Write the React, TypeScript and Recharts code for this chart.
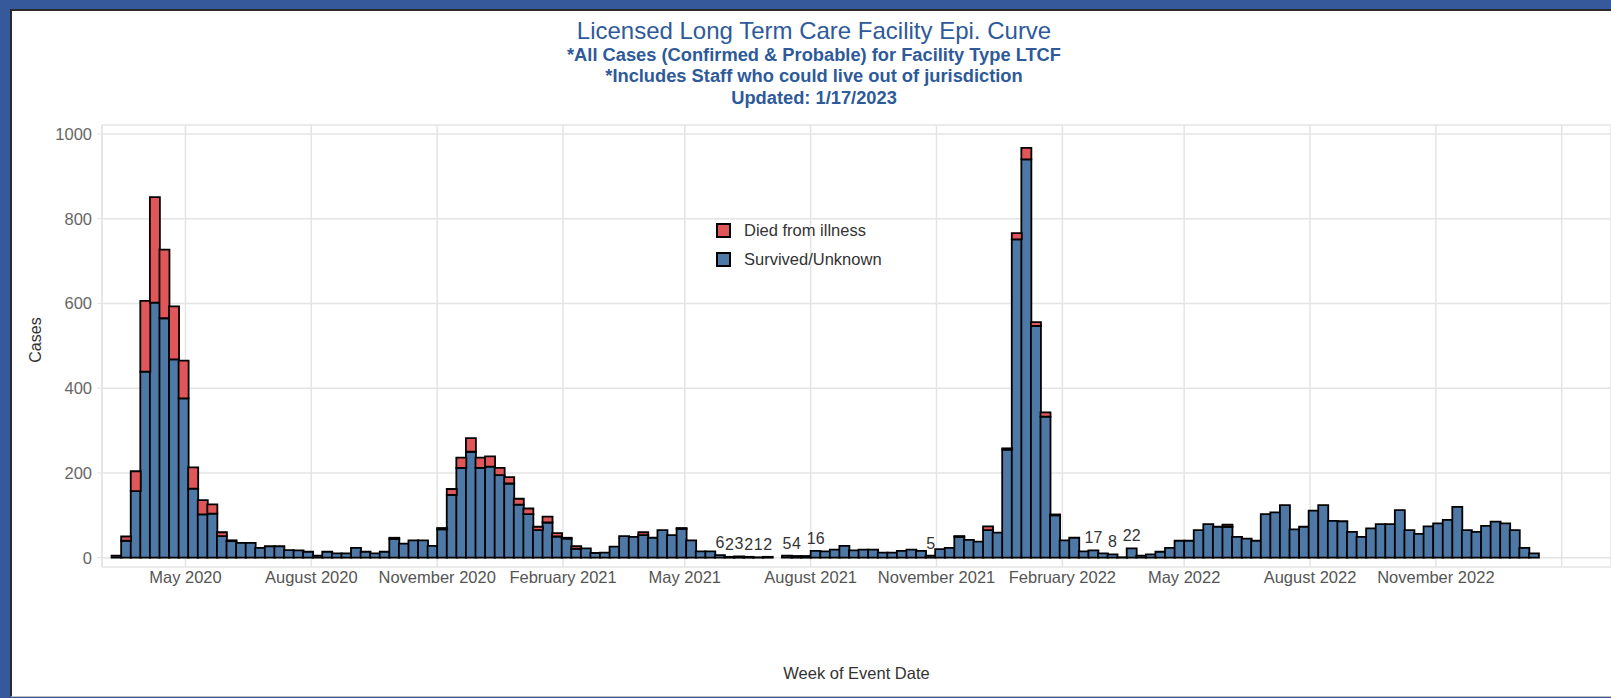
import React from "react";
import {
  BarChart,
  Bar,
  XAxis,
  YAxis,
  CartesianGrid,
  LabelList,
} from "recharts";

const DAY = 86400000;
const FONT = 'Arial, "Liberation Sans", sans-serif';
const BLUE_TEXT = "#2e5a9a";
const SURVIVED_COLOR = "#4e79a7";
const DIED_COLOR = "#e15759";

// first reported week (Sunday start), one bar per week after that
const firstWeek = Date.UTC(2020, 2, 8);

const survived = [
  5, 40, 157, 439, 602, 565, 468, 376, 163, 102,
  104, 51, 39, 35, 35, 23, 27, 27, 18, 17,
  14, 5, 14, 10, 10, 23, 14, 10, 14, 44,
  33, 41, 41, 28, 67, 148, 212, 250, 212, 215,
  195, 175, 125, 103, 65, 83, 50, 45, 21, 22,
  11, 12, 26, 51, 49, 53, 47, 65, 53, 68,
  41, 15, 15, 6, 2, 3, 2, 1, 2, 0,
  5, 4, 4, 16, 15, 19, 28, 17, 19, 19,
  12, 12, 16, 19, 16, 5, 20, 23, 49, 42,
  38, 65, 59, 255, 751, 940, 547, 333, 100, 41,
  47, 15, 17, 10, 8, 1, 22, 5, 8, 14,
  23, 40, 40, 65, 79, 73, 73, 49, 45, 40,
  103, 107, 124, 67, 73, 111, 124, 87, 86, 61,
  49, 69, 79, 79, 112, 65, 56, 74, 81, 89,
  120, 65, 61, 75, 85, 81, 65, 23, 10,
];

const died = [
  0, 10, 47, 167, 249, 162, 125, 89, 50, 34,
  22, 9, 2, 0, 0, 0, 0, 0, 0, 0,
  0, 0, 0, 0, 0, 0, 0, 0, 0, 3,
  0, 0, 0, 0, 3, 14, 24, 32, 24, 24,
  17, 15, 14, 13, 8, 14, 8, 2, 6, 0,
  0, 0, 0, 0, 0, 7, 0, 0, 0, 2,
  0, 0, 0, 0, 0, 0, 0, 0, 0, 0,
  0, 0, 0, 0, 0, 0, 0, 0, 0, 0,
  0, 0, 0, 0, 0, 0, 0, 0, 2, 0,
  0, 9, 0, 3, 15, 27, 9, 10, 2, 0,
  0, 0, 0, 0, 0, 0, 0, 0, 0, 0,
  0, 0, 0, 0, 0, 0, 5, 0, 0, 0,
  0, 0, 0, 0, 0, 0, 0, 0, 0, 0,
  0, 0, 0, 0, 0, 0, 0, 0, 0, 0,
  0, 0, 0, 0, 0, 0, 0, 0, 0,
];

// weeks whose totals carry a mark label in the original
const labelledWeeks = [63, 64, 65, 66, 67, 68, 70, 71, 73, 85, 102, 104, 106];

const xTicks = [
  Date.UTC(2020, 4, 1),
  Date.UTC(2020, 7, 1),
  Date.UTC(2020, 10, 1),
  Date.UTC(2021, 1, 1),
  Date.UTC(2021, 4, 1),
  Date.UTC(2021, 7, 1),
  Date.UTC(2021, 10, 1),
  Date.UTC(2022, 1, 1),
  Date.UTC(2022, 4, 1),
  Date.UTC(2022, 7, 1),
  Date.UTC(2022, 10, 1),
  Date.UTC(2023, 1, 1),
];
const xTickLabels = [
  "May 2020",
  "August 2020",
  "November 2020",
  "February 2021",
  "May 2021",
  "August 2021",
  "November 2021",
  "February 2022",
  "May 2022",
  "August 2022",
  "November 2022",
  "",
];
const xDomain = [Date.UTC(2020, 2, 1), Date.UTC(2023, 2, 9)];

const yTicks = [0, 200, 400, 600, 800, 1000];
const yDomain = [-22, 1021];

const legendItems = [
  { name: "Died from illness", color: DIED_COLOR },
  { name: "Survived/Unknown", color: SURVIVED_COLOR },
];

const data = survived.map((s, i) => ({
  week: firstWeek + (i * 7 + 3.5) * DAY,
  survived: s,
  died: died[i],
  label: labelledWeeks.includes(i) ? String(s + died[i]) : undefined,
}));

function LegendBox() {
  return (
    <div
      style={{
        position: "absolute",
        left: 716,
        top: 216,
        fontFamily: FONT,
        fontSize: 16.5,
        color: "#333",
      }}
    >
      {legendItems.map((p) => (
        <div
          key={p.name}
          style={{ display: "flex", alignItems: "center", height: 29 }}
        >
          <span
            style={{
              display: "inline-block",
              width: 11,
              height: 11,
              background: p.color,
              border: "2px solid #000",
              marginRight: 13,
            }}
          />
          {p.name}
        </div>
      ))}
    </div>
  );
}

export default function App() {
  return (
    <div
      style={{
        position: "absolute",
        left: 0,
        top: 0,
        width: 1611,
        height: 698,
        background: "#35599b",
        overflow: "hidden",
      }}
    >
      <div
        style={{
          position: "absolute",
          left: 10,
          top: 9,
          width: 1601,
          height: 688,
          background: "#fff",
          borderLeft: "2px solid #2a2a2a",
          borderTop: "2px solid #2a2a2a",
          borderBottom: "1px solid #bdbdbd",
          boxSizing: "border-box",
        }}
      />
      <svg
        width={1611}
        height={120}
        style={{ position: "absolute", left: 0, top: 0, fontFamily: FONT }}
      >
        <text x={814} y={39} textAnchor="middle" fontSize={24} fill={BLUE_TEXT}>
          Licensed Long Term Care Facility Epi. Curve
        </text>
        <text x={814} y={61} textAnchor="middle" fontSize={18.3} fontWeight="bold" fill={BLUE_TEXT}>
          *All Cases (Confirmed &amp; Probable) for Facility Type LTCF
        </text>
        <text x={814} y={82} textAnchor="middle" fontSize={18.3} fontWeight="bold" fill={BLUE_TEXT}>
          *Includes Staff who could live out of jurisdiction
        </text>
        <text x={814} y={104} textAnchor="middle" fontSize={18.3} fontWeight="bold" fill={BLUE_TEXT}>
          Updated: 1/17/2023
        </text>
      </svg>
      <div style={{ position: "absolute", left: 0, top: 0 }}>
        <BarChart
          width={1611}
          height={698}
          data={data}
          margin={{ top: 125, right: 0, bottom: 0, left: 0 }}
          barCategoryGap={0}
          barGap={0}
          style={{ fontFamily: FONT }}
        >
          <CartesianGrid stroke="#e4e4e4" strokeWidth={1.5} />
          <XAxis
            dataKey="week"
            type="number"
            domain={xDomain}
            allowDataOverflow
            ticks={xTicks}
            interval={0}
            tickFormatter={(v: number) => xTickLabels[xTicks.indexOf(v)] ?? ""}
            height={131}
            axisLine={false}
            tickLine={false}
            tickSize={0}
            tickMargin={4}
            tick={{ fill: "#555", fontSize: 16.5 }}
            label={{
              content: ({ viewBox }: any) => (
                <text
                  x={viewBox.x + viewBox.width / 2}
                  y={viewBox.y + 112}
                  textAnchor="middle"
                  fontSize={16.5}
                  fill="#333"
                >
                  Week of Event Date
                </text>
              ),
            }}
          />
          <YAxis
            type="number"
            domain={yDomain}
            allowDataOverflow
            ticks={yTicks}
            interval={0}
            width={102}
            axisLine={{ stroke: "#e4e4e4", strokeWidth: 1.5 }}
            tickLine={{ stroke: "#e4e4e4" }}
            tickSize={5}
            tickMargin={5}
            tick={{ fill: "#666", fontSize: 16.5 }}
            label={{
              content: ({ viewBox }: any) => {
                const cx = viewBox.x + 41;
                const cy = viewBox.y + viewBox.height / 2 - 6;
                return (
                  <text
                    x={cx}
                    y={cy}
                    transform={`rotate(-90 ${cx} ${cy})`}
                    textAnchor="middle"
                    fontSize={16}
                    fill="#333"
                  >
                    Cases
                  </text>
                );
              },
            }}
          />
          <Bar
            dataKey="survived"
            name="Survived/Unknown"
            stackId="a"
            fill={SURVIVED_COLOR}
            stroke="#000"
            strokeWidth={1.8}
            isAnimationActive={false}
          >
            <LabelList
              dataKey="label"
              position="top"
              offset={7}
              fill="#333"
              fontSize={16}
            />
          </Bar>
          <Bar
            dataKey="died"
            name="Died from illness"
            stackId="a"
            fill={DIED_COLOR}
            stroke="#000"
            strokeWidth={1.8}
            isAnimationActive={false}
          />
        </BarChart>
      </div>
      <LegendBox />
    </div>
  );
}
